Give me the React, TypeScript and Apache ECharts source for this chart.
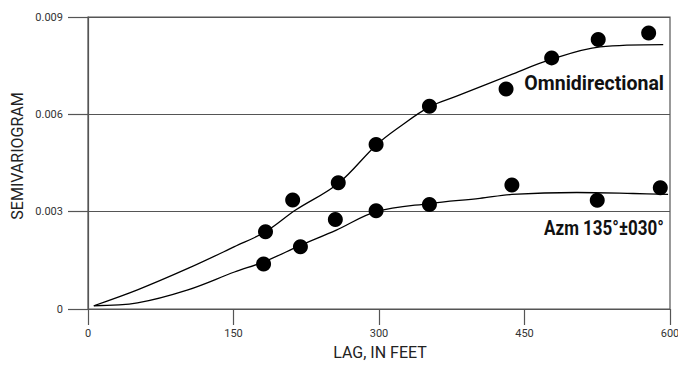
import React, { useEffect, useRef } from "react";
import * as echarts from "echarts";

const xTicks = [0, 150, 300, 450, 600];
const yTicks = [0, 0.003, 0.006, 0.009];

const omniLag = [183, 211, 258, 297, 352, 431, 478, 526, 578];
const omniGamma = [0.00238, 0.00336, 0.00389, 0.00507, 0.00625, 0.00678, 0.00774, 0.00831, 0.00851];
const azmLag = [181, 219, 255, 297, 352, 437, 525, 590];
const azmGamma = [0.00139, 0.00192, 0.00276, 0.00303, 0.00322, 0.00382, 0.00335, 0.00374];

const omniModelLag = [6, 51, 103, 151, 183, 214, 258, 297, 321, 352, 380, 435, 478, 528, 593];
const omniModelGamma = [0.0001, 0.00059, 0.00125, 0.00192, 0.00238, 0.00305, 0.00387, 0.00505, 0.00561, 0.00623, 0.00656, 0.00721, 0.0077, 0.00808, 0.00815];
const azmModelLag = [6, 51, 103, 151, 181, 219, 256, 297, 352, 404, 437, 504, 562, 598];
const azmModelGamma = [0.0001, 0.00019, 0.00059, 0.00114, 0.00145, 0.00196, 0.00243, 0.003, 0.00325, 0.00341, 0.00353, 0.00359, 0.00356, 0.00353];

const labelOmni = "Omnidirectional";
const labelAzm = "Azm 135°±030°";
const xName = "LAG, IN FEET";
const yName = "SEMIVARIOGRAM";

const FONT = "Roboto, 'Liberation Sans', sans-serif";

const zip = (a: number[], b: number[]) => a.map((v, i) => [v, b[i]]);

export default function App() {
  const ref = useRef<HTMLDivElement>(null);
  useEffect(() => {
    document.body.style.margin = "0";
    if (!ref.current) return;
    const chart = echarts.init(ref.current, null, { renderer: "svg" });
    const gray = "#555";
    chart.setOption({
      animation: false,
      backgroundColor: "#fff",
      grid: {
        left: 88,
        right: 8,
        top: 17,
        bottom: 56,
        show: true,
        borderColor: gray,
        borderWidth: 1.2,
        outerBoundsMode: "none",
        containLabel: false,
      },
      xAxis: {
        type: "value",
        min: xTicks[0],
        max: xTicks[xTicks.length - 1],
        interval: xTicks[1] - xTicks[0],
        axisLine: { show: true, lineStyle: { color: gray, width: 1.2 } },
        axisTick: { show: true, length: 16, lineStyle: { color: gray, width: 1.2 } },
        axisLabel: { margin: 19, fontSize: 11, color: "#333", fontFamily: FONT, showMaxLabel: true },
        splitLine: { show: false },
      },
      yAxis: {
        type: "value",
        min: yTicks[0],
        max: yTicks[yTicks.length - 1],
        interval: yTicks[1] - yTicks[0],
        axisLine: { show: true, lineStyle: { color: gray, width: 1.2 } },
        axisTick: { show: true, length: 20, lineStyle: { color: gray, width: 1.2 } },
        axisLabel: {
          margin: 25,
          fontSize: 11,
          color: "#333",
          fontFamily: FONT,
          formatter: (v: number) => (v === 0 ? "0" : v.toFixed(3)),
        },
        splitLine: { show: true, lineStyle: { color: gray, width: 1.2 } },
      },
      series: [
        {
          type: "line",
          data: zip(omniModelLag, omniModelGamma),
          smooth: 0.35,
          showSymbol: false,
          lineStyle: { color: "#000", width: 1.3 },
          z: 2,
        },
        {
          type: "line",
          data: zip(azmModelLag, azmModelGamma),
          smooth: 0.35,
          showSymbol: false,
          lineStyle: { color: "#000", width: 1.3 },
          z: 2,
        },
        {
          type: "scatter",
          data: zip(omniLag, omniGamma),
          symbolSize: 15,
          itemStyle: { color: "#000", opacity: 1 },
          z: 3,
        },
        {
          type: "scatter",
          data: zip(azmLag, azmGamma),
          symbolSize: 15,
          itemStyle: { color: "#000", opacity: 1 },
          z: 3,
        },
      ],
      graphic: [
        {
          type: "text",
          x: 664,
          y: 83,
          scaleX: 0.93,
          style: { text: labelOmni, font: `bold 21px ${FONT}`, fill: "#111", textAlign: "right", textVerticalAlign: "middle" },
        },
        {
          type: "text",
          x: 664,
          y: 228,
          scaleX: 0.81,
          style: { text: labelAzm, font: `bold 21px ${FONT}`, fill: "#111", textAlign: "right", textVerticalAlign: "middle" },
        },
        {
          type: "text",
          x: 380,
          y: 352,
          style: { text: xName, font: `16px ${FONT}`, fill: "#222", textAlign: "center", textVerticalAlign: "middle" },
        },
        {
          type: "text",
          x: 17,
          y: 156,
          rotation: Math.PI / 2,
          style: { text: yName, font: `16px ${FONT}`, fill: "#222", textAlign: "center", textVerticalAlign: "middle" },
        },
      ],
    });
    return () => chart.dispose();
  }, []);
  return <div ref={ref} style={{ width: 678, height: 365 }} />;
}
